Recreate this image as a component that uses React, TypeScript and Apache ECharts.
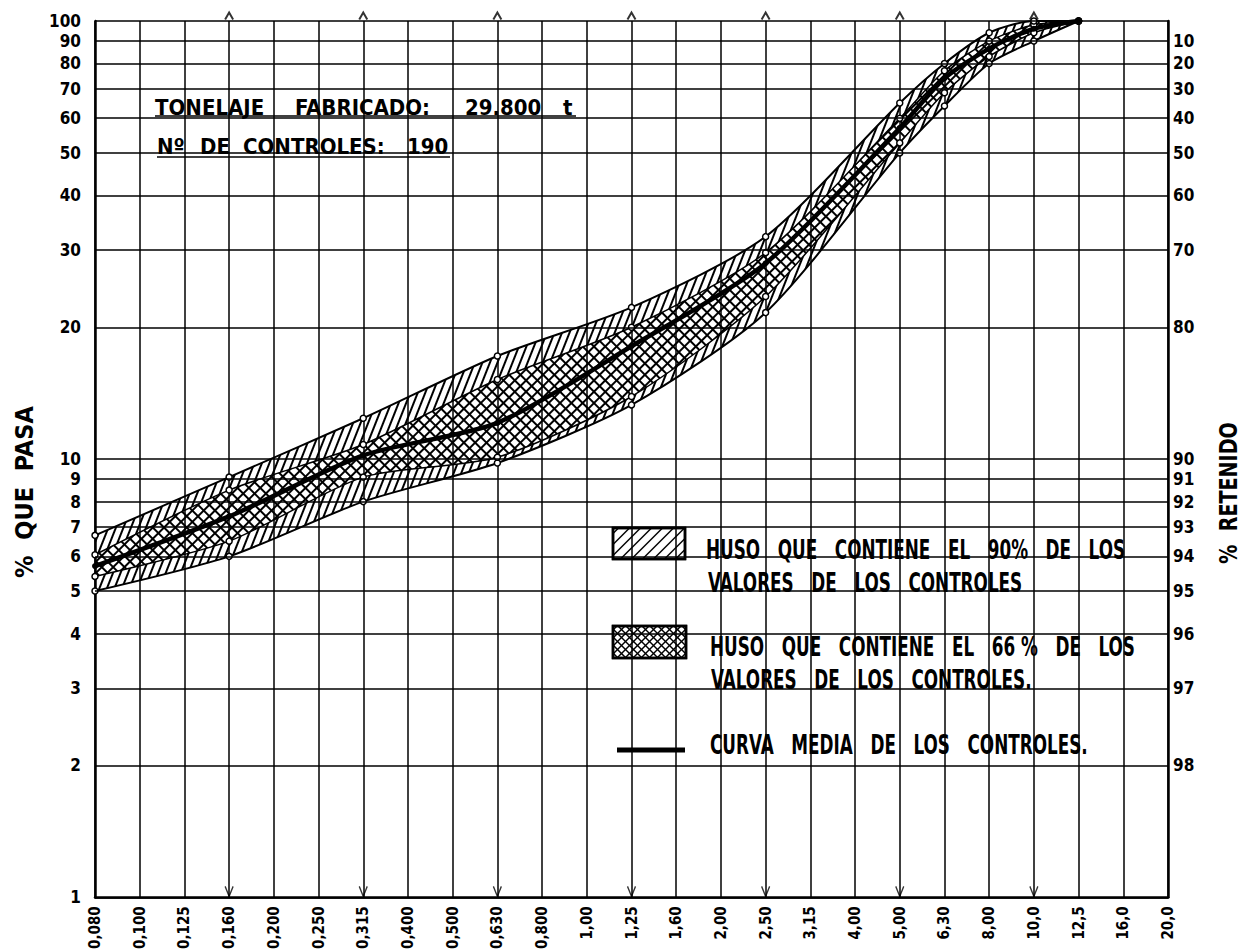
import React, { useEffect, useRef } from 'react';
import * as echarts from 'echarts';

// Sieve sizes (mm) along the x axis
const sieveLabels = ['0,080', '0,100', '0,125', '0,160', '0,200', '0,250', '0,315', '0,400', '0,500', '0,630', '0,800', '1,00', '1,25', '1,60', '2,00', '2,50', '3,15', '4,00', '5,00', '6,30', '8,00', '10,0', '12,5', '16,0', '20,0'];
// Sieves used in the controls
const controlSieves = ['0,080', '0,160', '0,315', '0,630', '1,25', '2,50', '5,00', '6,30', '8,00', '10,0', '12,5'];
// % passing envelopes
const upper90 = [6.7, 9.1, 12.4, 17.2, 22.2, 32.2, 65, 80, 94, 100, 100];
const upper66 = [6.05, 8.5, 10.8, 15.2, 20, 29.6, 60, 77, 90, 98, 100];
const meanCurve = [5.7, 7.4, 10.2, 12.1, 18.1, 28, 57, 74, 86.5, 96, 100];
const lower66 = [5.4, 6.5, 9.1, 10.1, 13.9, 23.5, 52.7, 68.6, 83, 94, 100];
const lower90 = [5.0, 6.0, 8.0, 9.8, 13.3, 21.6, 50, 64, 80, 90, 100];
// Axis ticks
const passTicks = [1, 2, 3, 4, 5, 6, 7, 8, 9, 10, 20, 30, 40, 50, 60, 70, 80, 90, 100];
const retainTicks = [2, 3, 4, 5, 6, 7, 8, 9, 10, 20, 30, 40, 50, 60, 70, 80, 90];
const arrowSieves = ['0,160', '0,315', '0,630', '1,25', '2,50', '5,00', '10,0'];

const FONT = "'DejaVu Sans Condensed', 'DejaVu Sans', sans-serif";
const SMOOTH = 0.25;

function hatchLines(x0: number, y0: number, w: number, h: number, step: number, dir: 'up' | 'down', lw: number) {
  const out: any[] = [];
  if (dir === 'up') {
    for (let k = x0 + y0 + step / 2; k < x0 + y0 + w + h; k += step) {
      const xa = Math.max(x0, k - y0 - h);
      const xb = Math.min(x0 + w, k - y0);
      if (xa < xb) out.push({ type: 'line', shape: { x1: xa, y1: k - xa, x2: xb, y2: k - xb }, style: { stroke: '#000', lineWidth: lw } });
    }
  } else {
    for (let k = y0 - x0 - w + step / 2; k < y0 + h - x0; k += step) {
      const xa = Math.max(x0, y0 - k);
      const xb = Math.min(x0 + w, y0 + h - k);
      if (xa < xb) out.push({ type: 'line', shape: { x1: xa, y1: xa + k, x2: xb, y2: xb + k }, style: { stroke: '#000', lineWidth: lw } });
    }
  }
  return out;
}

function txt(text: string, x: number, y: number, size: number, scaleX = 1, rotation = 0, align = 'left') {
  return {
    type: 'text', x, y, scaleX, rotation, silent: true,
    style: { text, font: `bold ${size}px ${FONT}`, fill: '#000', align, verticalAlign: 'middle' },
  };
}

export default function App() {
  const ref = useRef<HTMLDivElement>(null);
  useEffect(() => {
    document.body.style.margin = '0';
    const chart = echarts.init(ref.current!, null, { renderer: 'svg' });
    const pairs = (v: number[]) => controlSieves.map((s, i) => [s, v[i]]);
    const diff = (a: number[], b: number[]) => controlSieves.map((s, i) => [s, Math.round((a[i] - b[i]) * 1000) / 1000]);
    const decal = (rot: number, thick: number, gap: number) => ({
      color: '#000', symbol: 'rect', symbolSize: 1, dashArrayX: [1, 0], dashArrayY: [thick, gap], rotation: rot,
    });
    const boundary = (name: string, data: any[], stack: string, width: number, dec?: any) => {
      const s: any = {
        name, type: 'line', data, stack, smooth: SMOOTH, symbol: 'circle', symbolSize: 6,
        lineStyle: { color: '#000', width },
        itemStyle: { color: '#fff', borderColor: '#000', borderWidth: 1.5 },
        emphasis: { disabled: true }, silent: true, z: 4,
      };
      if (dec) {
        s.areaStyle = { color: 'rgba(255,255,255,0)', opacity: 1 };
        s.itemStyle.decal = dec;
      }
      return s;
    };
    const labelStyle = { fontFamily: FONT, fontWeight: 'bold', fontSize: 17, color: '#000' };
    const outerHatch = decal(-Math.PI * 0.38, 2, 5);
    const crossA = decal(Math.PI * 0.25, 1.6, 5.5);
    const crossB = decal(-Math.PI * 0.25, 1.6, 5.5);

    const series: any[] = [
      {
        name: 'innerBase', type: 'line', data: pairs(lower66), stack: 'inner', smooth: SMOOTH, symbol: 'none',
        lineStyle: { opacity: 0 }, silent: true, z: 2,
        markLine: {
          silent: true, symbol: ['none', 'none'], animation: false,
          lineStyle: { color: '#000', width: 1.6, type: 'solid' },
          label: { position: 'start', distance: 14, formatter: (p: any) => String(p.value), ...labelStyle },
          data: passTicks.map((v) => ({ yAxis: v })),
        },
      },
      {
        name: 'innerCross', type: 'line', data: diff(upper66, lower66), stack: 'inner', smooth: SMOOTH, symbol: 'none',
        lineStyle: { opacity: 0 }, silent: true, z: 2,
        areaStyle: { color: 'rgba(255,255,255,0)', opacity: 1 },
        itemStyle: { color: '#fff', decal: crossB },
        markLine: {
          silent: true, symbol: ['none', 'none'], animation: false,
          lineStyle: { color: 'rgba(0,0,0,0)', width: 1 },
          label: { show: true, position: 'end', distance: 5, formatter: (p: any) => String(100 - p.value), ...labelStyle },
          data: retainTicks.map((v) => ({ yAxis: v })),
        },
      },
      boundary('lower90', pairs(lower90), 'outer', 2),
      boundary('band90low', diff(lower66, lower90), 'outer', 1.5, outerHatch),
      boundary('band66', diff(upper66, lower66), 'outer', 1.5, crossA),
      boundary('band90up', diff(upper90, upper66), 'outer', 2, outerHatch),
      {
        name: 'mean', type: 'line', data: pairs(meanCurve), smooth: SMOOTH, symbol: 'circle', symbolSize: 6,
        lineStyle: { color: '#000', width: 4.5 }, itemStyle: { color: '#000' }, silent: true, z: 5,
      },
      {
        type: 'scatter', data: arrowSieves.map((s) => [s, 1]), symbol: 'path://M0,0L5,10L10,0',
        symbolSize: [8, 10], symbolOffset: [0, -6], clip: false, silent: true, z: 6,
        itemStyle: { color: 'rgba(0,0,0,0)', borderColor: '#000', borderWidth: 1.5 },
      },
      {
        type: 'scatter', data: arrowSieves.map((s) => [s, 100]), symbol: 'path://M0,10L5,0L10,10',
        symbolSize: [8, 7], symbolOffset: [0, -5], clip: false, silent: true, z: 6,
        itemStyle: { color: 'rgba(0,0,0,0)', borderColor: '#000', borderWidth: 1.8 },
      },
    ];

    const graphic: any[] = [
      txt('TONELAJE', 155, 107, 22),
      txt('FABRICADO:', 295, 107, 22),
      txt('29.800', 465, 107, 22),
      txt('t', 563, 107, 22),
      { type: 'line', shape: { x1: 155, y1: 116, x2: 576, y2: 116 }, style: { stroke: '#000', lineWidth: 1.5 } },
      txt('Nº', 157, 146, 22),
      txt('DE', 200, 146, 22),
      txt('CONTROLES:', 243, 146, 22),
      txt('190', 407, 146, 22),
      { type: 'line', shape: { x1: 157, y1: 157, x2: 450, y2: 157 }, style: { stroke: '#000', lineWidth: 1.5 } },
      // legend
      { type: 'rect', shape: { x: 613, y: 528, width: 72, height: 31 }, style: { fill: '#fff', stroke: '#000', lineWidth: 2.5 } },
      ...hatchLines(613, 528, 72, 31, 11, 'up', 1.5),
      { type: 'rect', shape: { x: 613, y: 626, width: 73, height: 32 }, style: { fill: '#fff', stroke: '#000', lineWidth: 2.5 } },
      ...hatchLines(613, 626, 73, 32, 8, 'up', 1.5),
      ...hatchLines(613, 626, 73, 32, 8, 'down', 1.5),
      { type: 'rect', shape: { x: 613, y: 626, width: 73, height: 32 }, style: { fill: 'none', stroke: '#000', lineWidth: 2.5 } },
      { type: 'rect', shape: { x: 613, y: 528, width: 72, height: 31 }, style: { fill: 'none', stroke: '#000', lineWidth: 2.5 } },
      { type: 'line', shape: { x1: 617, y1: 750, x2: 685, y2: 750 }, style: { stroke: '#000', lineWidth: 5 } },
      txt('HUSO   QUE   CONTIENE   EL   90%   DE   LOS', 706, 550, 26, 0.72),
      txt('VALORES   DE   LOS   CONTROLES', 708, 583, 26, 0.72),
      txt('HUSO   QUE   CONTIENE   EL   66 %   DE   LOS', 710, 647, 26, 0.72),
      txt('VALORES   DE   LOS   CONTROLES.', 711, 680, 26, 0.72),
      txt('CURVA   MEDIA   DE   LOS   CONTROLES.', 710, 745, 26, 0.72),
      txt('%  QUE  PASA', 24, 492, 25, 1, Math.PI / 2, 'center'),
      txt('%  RETENIDO', 1228, 493, 25, 0.85, Math.PI / 2, 'center'),
    ];

    chart.setOption({
      animation: false,
      backgroundColor: '#fff',
      grid: { left: 95, right: 85, top: 21, bottom: 54, containLabel: false },
      xAxis: {
        type: 'category', data: sieveLabels, boundaryGap: false,
        axisLine: { lineStyle: { color: '#000', width: 2.5 } },
        axisTick: { show: false },
        axisLabel: { interval: 0, rotate: 90, margin: 9, fontFamily: FONT, fontWeight: 'bold', fontSize: 15, color: '#000' },
        splitLine: { show: true, interval: 0, lineStyle: { color: '#000', width: 1.5 } },
      },
      yAxis: [
        {
          type: 'log', logBase: 10, min: 1, max: 100, position: 'left',
          axisLine: { show: true, lineStyle: { color: '#000', width: 2.5 } },
          axisTick: { show: false }, axisLabel: { show: false }, splitLine: { show: false },
        },
        {
          type: 'log', logBase: 10, min: 1, max: 100, position: 'right',
          axisLine: { show: true, lineStyle: { color: '#000', width: 2.5 } },
          axisTick: { show: false }, axisLabel: { show: false }, splitLine: { show: false },
        },
      ],
      series,
      graphic,
    });
    return () => chart.dispose();
  }, []);
  return <div ref={ref} style={{ width: 1253, height: 952 }} />;
}
